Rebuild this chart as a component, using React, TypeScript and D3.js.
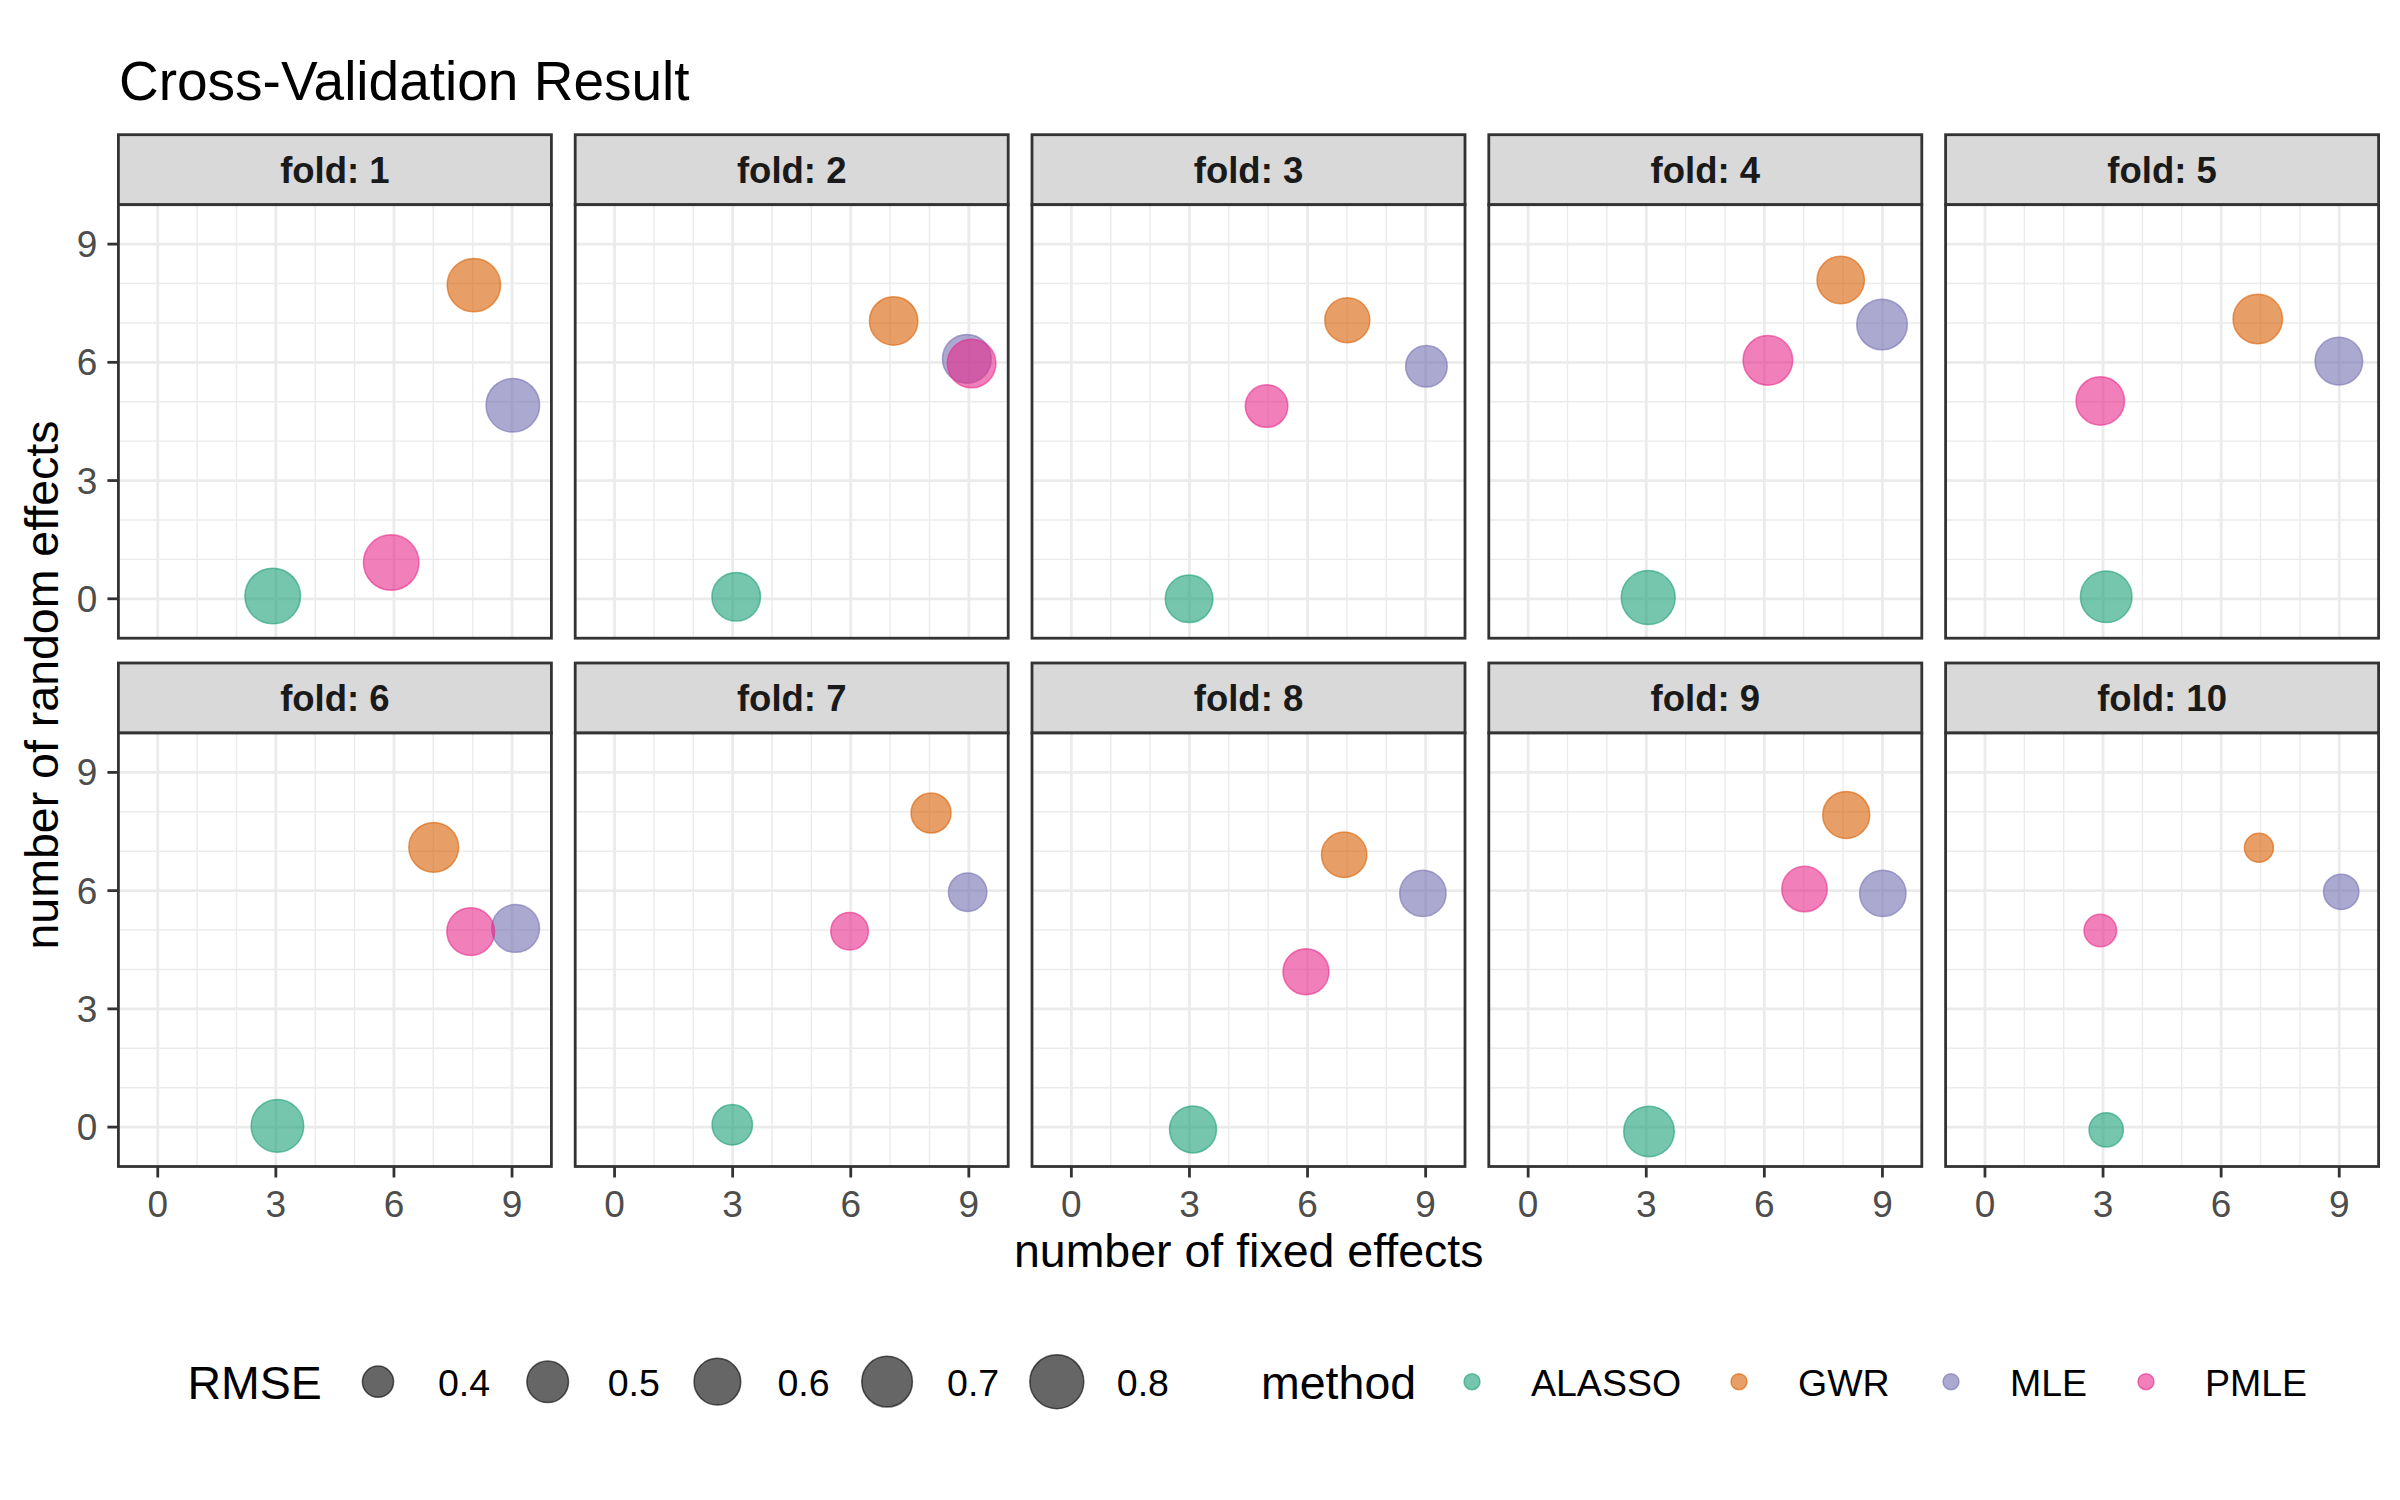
import { scaleLinear, range } from "d3";

// cross-validation result: one panel per fold, four methods each
const folds = [1, 2, 3, 4, 5, 6, 7, 8, 9, 10];
const methods = ["ALASSO", "GWR", "MLE", "PMLE"];
const methodColors = ["#1B9E77", "#D95F02", "#7570B3", "#E7298A"];

// number of fixed effects (jittered), per fold
const fixedALASSO = [2.92, 3.09, 2.99, 3.05, 3.08, 3.04, 2.99, 3.09, 3.07, 3.08];
const fixedGWR = [8.03, 7.09, 7.01, 7.94, 6.93, 7.01, 8.04, 6.93, 8.08, 6.96];
const fixedMLE = [9.02, 8.95, 9.02, 8.99, 8.99, 9.09, 8.97, 8.93, 9.01, 9.05];
const fixedPMLE = [5.93, 9.07, 4.96, 6.09, 2.93, 7.95, 5.97, 5.96, 7.02, 2.93];

// number of random effects (jittered), per fold
const randomALASSO = [0.07, 0.05, 0.0, 0.03, 0.05, 0.03, 0.06, -0.06, -0.11, -0.07];
const randomGWR = [7.96, 7.05, 7.07, 8.09, 7.1, 7.1, 7.97, 6.91, 7.92, 7.09];
const randomMLE = [4.91, 6.09, 5.9, 6.96, 6.03, 5.04, 5.96, 5.93, 5.93, 5.97];
const randomPMLE = [0.92, 5.97, 4.89, 6.05, 5.02, 4.96, 4.97, 3.94, 6.04, 4.99];

// RMSE, per fold
const rmseALASSO = [0.854, 0.645, 0.62, 0.8, 0.727, 0.756, 0.481, 0.606, 0.698, 0.416];
const rmseGWR = [0.781, 0.64, 0.562, 0.616, 0.666, 0.676, 0.475, 0.571, 0.606, 0.397];
const rmseMLE = [0.787, 0.65, 0.499, 0.698, 0.62, 0.625, 0.454, 0.592, 0.592, 0.423];
const rmsePMLE = [0.85, 0.645, 0.516, 0.671, 0.64, 0.625, 0.445, 0.583, 0.571, 0.405];

const fixedBy = [fixedALASSO, fixedGWR, fixedMLE, fixedPMLE];
const randomBy = [randomALASSO, randomGWR, randomMLE, randomPMLE];
const rmseBy = [rmseALASSO, rmseGWR, rmseMLE, rmsePMLE];

const axisTicks = [0, 3, 6, 9];
const sizeBreaks = [0.4, 0.5, 0.6, 0.7, 0.8];

const FONT = "'Liberation Sans', Arial, sans-serif";
const PANEL_W = 433;
const PANEL_H = 433.5;
const STRIP_H = 70;
const COL_STEP = 456.8;
const LEFT0 = 118.4;
const ROW_TOP = [134.7, 663];

export default function App() {
  const x = scaleLinear().domain([-1, 10]).range([0, PANEL_W]);
  const y = scaleLinear().domain([-1, 10]).range([PANEL_H, 0]);

  // ggplot-like area scale: radius grows with sqrt of rescaled rmse
  const all = rmseBy.flat();
  const rMin = Math.min(...all);
  const rMax = Math.max(...all);
  const rad = scaleLinear().domain([0, 1]).range([14.5, 27.8]);
  const size = (v: number) => rad(Math.sqrt(Math.max(0, (v - rMin) / (rMax - rMin))));

  const minor = range(-1, 11).filter((v) => !axisTicks.includes(v));

  return (
    <svg
      width={2400}
      height={1500}
      style={{ position: "absolute", left: 0, top: 0, background: "#fff" }}
      fontFamily={FONT}
    >
      <rect width={2400} height={1500} fill="#fff" />
      <text x={119} y={100} fontSize={55} fill="#000">
        Cross-Validation Result
      </text>

      {folds.map((fold, fi) => {
        const row = Math.floor(fi / 5);
        const col = fi % 5;
        const left = LEFT0 + col * COL_STEP;
        const stripTop = ROW_TOP[row];
        const top = stripTop + STRIP_H;
        return (
          <g key={fold}>
            {/* strip */}
            <rect
              x={left}
              y={stripTop}
              width={PANEL_W}
              height={STRIP_H}
              fill="#D9D9D9"
              stroke="#333333"
              strokeWidth={2.8}
            />
            <text
              x={left + PANEL_W / 2}
              y={stripTop + STRIP_H / 2 + 13}
              textAnchor="middle"
              fontSize={36.5}
              fontWeight="bold"
              fill="#1A1A1A"
            >
              {`fold: ${fold}`}
            </text>
            <g transform={`translate(${left},${top})`}>
              <rect width={PANEL_W} height={PANEL_H} fill="#fff" />
              {/* minor grid */}
              {minor.map((v) => (
                <g key={`m${v}`}>
                  <line x1={x(v)} x2={x(v)} y1={0} y2={PANEL_H} stroke="#EBEBEB" strokeWidth={1.4} />
                  <line x1={0} x2={PANEL_W} y1={y(v)} y2={y(v)} stroke="#EBEBEB" strokeWidth={1.4} />
                </g>
              ))}
              {/* major grid */}
              {axisTicks.map((v) => (
                <g key={`M${v}`}>
                  <line x1={x(v)} x2={x(v)} y1={0} y2={PANEL_H} stroke="#EBEBEB" strokeWidth={2.8} />
                  <line x1={0} x2={PANEL_W} y1={y(v)} y2={y(v)} stroke="#EBEBEB" strokeWidth={2.8} />
                </g>
              ))}
              {/* points */}
              {methods.map((m, mi) => (
                <circle
                  key={m}
                  cx={x(fixedBy[mi][fi])}
                  cy={y(randomBy[mi][fi])}
                  r={size(rmseBy[mi][fi])}
                  fill={methodColors[mi]}
                  fillOpacity={0.6}
                  stroke={methodColors[mi]}
                  strokeOpacity={0.6}
                  strokeWidth={1.5}
                />
              ))}
              <rect width={PANEL_W} height={PANEL_H} fill="none" stroke="#333333" strokeWidth={2.8} />
              {/* y axis on first column */}
              {col === 0 &&
                axisTicks.map((v) => (
                  <g key={`y${v}`}>
                    <line x1={-11} x2={0} y1={y(v)} y2={y(v)} stroke="#333333" strokeWidth={2.8} />
                    <text x={-21} y={y(v) + 13} textAnchor="end" fontSize={37} fill="#4D4D4D">
                      {v}
                    </text>
                  </g>
                ))}
              {/* x axis on bottom row */}
              {row === 1 &&
                axisTicks.map((v) => (
                  <g key={`x${v}`}>
                    <line x1={x(v)} x2={x(v)} y1={PANEL_H} y2={PANEL_H + 11} stroke="#333333" strokeWidth={2.8} />
                    <text x={x(v)} y={PANEL_H + 50} textAnchor="middle" fontSize={37} fill="#4D4D4D">
                      {v}
                    </text>
                  </g>
                ))}
            </g>
          </g>
        );
      })}

      {/* axis titles */}
      <text x={1248.7} y={1267} textAnchor="middle" fontSize={46.5} fill="#000">
        number of fixed effects
      </text>
      <text
        transform="translate(58,685) rotate(-90)"
        textAnchor="middle"
        fontSize={46.5}
        fill="#000"
      >
        number of random effects
      </text>

      {/* size legend */}
      <text x={187.5} y={1399} fontSize={46.5} fill="#000">
        RMSE
      </text>
      {sizeBreaks.map((b, i) => {
        const cx = 378 + i * 169.7;
        return (
          <g key={b}>
            <circle
              cx={cx}
              cy={1381.7}
              r={size(b)}
              fill="#000"
              fillOpacity={0.6}
              stroke="#000"
              strokeOpacity={0.6}
              strokeWidth={1.5}
            />
            <text x={cx + 60} y={1396} fontSize={37.5} fill="#000">
              {b.toFixed(1)}
            </text>
          </g>
        );
      })}

      {/* method legend */}
      <text x={1261} y={1399} fontSize={46.5} fill="#000">
        method
      </text>
      {methods.map((m, i) => {
        const cx = [1472, 1739, 1951, 2146][i];
        return (
          <g key={m}>
            <circle
              cx={cx}
              cy={1381.7}
              r={8}
              fill={methodColors[i]}
              fillOpacity={0.6}
              stroke={methodColors[i]}
              strokeOpacity={0.6}
              strokeWidth={1.5}
            />
            <text x={cx + 59} y={1396} fontSize={37.5} fill="#000">
              {m}
            </text>
          </g>
        );
      })}
    </svg>
  );
}
